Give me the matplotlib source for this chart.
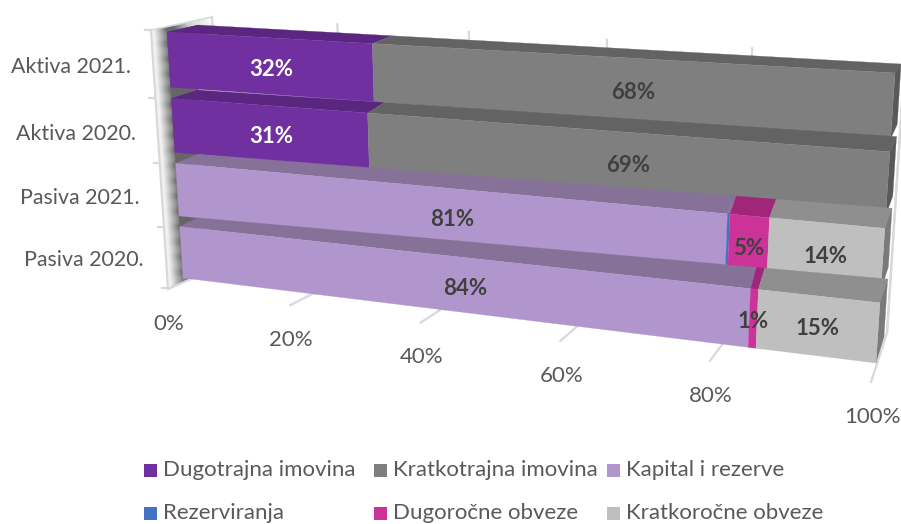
import numpy as np
import matplotlib
matplotlib.use('Agg')
import matplotlib.pyplot as plt
from matplotlib.patches import Polygon, Rectangle

plt.rcParams['font.family'] = ['Lato', 'DejaVu Sans']

categories = ['Aktiva 2021.', 'Aktiva 2020.', 'Pasiva 2021.', 'Pasiva 2020.']
series_names = ['Dugotrajna imovina', 'Kratkotrajna imovina', 'Kapital i rezerve',
                'Rezerviranja', 'Dugoročne obveze', 'Kratkoročne obveze']
dugotrajna = [32, 31, 0, 0]
kratkotrajna = [68, 69, 0, 0]
kapital = [0, 0, 80.7, 84]
rezerviranja = [0, 0, 0.3, 0]
dugorocne = [0, 0, 5, 1]
kratkorocne = [0, 0, 14, 15]
x_ticks = [0, 20, 40, 60, 80, 100]

front_cols = ['#7030A0', '#7F7F7F', '#B196CE', '#4472C4', '#CC3399', '#BFBFBF']
top_cols = ['#5A2680', '#636363', '#867298', '#867298', '#A0267A', '#8F8F8F']
side_cols = ['#4A2068', '#595959', '#76658A', '#335590', '#8A2068', '#7A7A7A']
label_cols = ['white', '#404040', '#404040', '#404040', '#404040', '#404040']


def homography(corners):
    # corners for (0,0), (1,0), (1,1), (0,1) in pixels
    src = [(0, 0), (1, 0), (1, 1), (0, 1)]
    A, b = [], []
    for (u, v), (x, y) in zip(src, corners):
        A.append([u, v, 1, 0, 0, 0, -u * x, -v * x])
        A.append([0, 0, 0, u, v, 1, -u * y, -v * y])
        b += [x, y]
    h = np.linalg.solve(np.array(A, float), np.array(b, float))
    return np.append(h, 1).reshape(3, 3)


def project(H, u, v):
    p = H @ np.array([u, v, 1.0])
    return p[0] / p[2], p[1] / p[2]


def project_back(u, v):
    # back edge has a bit more foreshortening than its corners give
    u2 = u / (u + (1 - u) * 1.10)
    return project(H_back, u2, v)


H_front = homography([(167, 32), (895, 73), (876, 363), (183, 278)])
H_back = homography([(198, 25), (901, 64), (884, 337), (198, 270)])
H_wall = homography([(212, 17), (905, 57), (887, 333), (226, 264)])

pitch = 1 / (4 - 0.17)
bar_h = 0.83 * pitch

fig = plt.figure(figsize=(9.01, 5.24), dpi=100)
ax = fig.add_axes([0, 0, 1, 1])
ax.set_xlim(0, 901)
ax.set_ylim(524, 0)
ax.axis('off')

grid_col = '#D9D9D9'
font_size = 16


def left_x(y):
    return 151 + 17 * (y - 30) / 259


# side wall with its shading
wall = Polygon([(151, 30), (212, 17), (226, 264), (168, 289)], closed=True,
               transform=ax.transData, fc='none', ec='none')
ax.add_patch(wall)
for dx in range(0, 64):
    grey = np.interp(dx, [0, 3, 15, 22, 38, 62], [0.96, 0.93, 0.42, 0.40, 0.80, 1.0])
    strip = ax.fill([left_x(0) + dx, left_x(0) + dx + 1.2, left_x(320) + dx + 1.2, left_x(320) + dx],
                    [0, 0, 320, 320], color=str(grey), lw=0, zorder=1)[0]
    strip.set_clip_path(wall)
ax.add_patch(Polygon([(167, 32), (198, 25), (198, 270), (183, 278)], fc='#666666', ec='none', zorder=1.5))

# gridlines on back wall and floor
for tick in x_ticks:
    u = tick / 100
    x0, y0 = project(H_wall, u, 0)
    x1, y1 = project(H_wall, u, 1)
    ax.plot([x0, x1], [y0, y1], color=grid_col, lw=1.6, zorder=1)
    t = (project(H_front, u, 1)[0] - 183) / (876 - 183)
    fx, fy = 168 + t * 703, 289 + t * 93
    ax.plot([x1, fx], [y1, fy], color=grid_col, lw=1.6, zorder=1)
    ax.text(fx + 1, fy + 35, f'{tick}%', ha='center', va='center', fontsize=font_size, color='#595959')

ax.plot([151, 168], [30, 289], color=grid_col, lw=1.6, zorder=2)
ax.plot([151, 212], [30, 17], color=grid_col, lw=1.2, zorder=1)
ax.plot([887, 905], [333, 57], color=grid_col, lw=1.6, zorder=1)

# category ticks and labels
tick_pts = []
for i in range(5):
    y = project(H_front, 0, i * pitch)[1]
    if i == 0:
        y = 30
    tick_pts.append((left_x(y), y))
    ax.plot([left_x(y) - 6, left_x(y)], [y, y], color=grid_col, lw=1.6, zorder=2)
for i, name in enumerate(categories):
    xm = (tick_pts[i][0] + tick_pts[i + 1][0]) / 2 - 6
    ym = (tick_pts[i][1] + tick_pts[i + 1][1]) / 2
    ax.text(xm - 16, ym + 3, name, ha='right', va='center', fontsize=15.4, color='#595959')

# stacked bars, far row first
all_series = [dugotrajna, kratkotrajna, kapital, rezerviranja, dugorocne, kratkorocne]
for i in range(len(categories)):
    v0 = i * pitch
    v1 = v0 + bar_h
    left = 0
    last = max(s for s in range(6) if all_series[s][i] > 0)
    for s in range(6):
        val = all_series[s][i]
        if val == 0:
            continue
        u0, u1 = left / 100, (left + val) / 100
        left += val
        ftl, ftr = project(H_front, u0, v0), project(H_front, u1, v0)
        fbl, fbr = project(H_front, u0, v1), project(H_front, u1, v1)
        btl, btr = project_back(u0, v0), project_back(u1, v0)
        bbr = project_back(u1, v1)
        ax.add_patch(Polygon([ftl, btl, btr, ftr], fc=top_cols[s], ec=top_cols[s], lw=0.2, zorder=3 + i))
        if s == last:
            ax.add_patch(Polygon([ftr, btr, bbr, fbr], fc=side_cols[s], ec=side_cols[s], lw=0.2, zorder=3 + i))
        ax.add_patch(Polygon([ftl, ftr, fbr, fbl], fc=front_cols[s], ec=front_cols[s], lw=0.2, zorder=3.1 + i))
        if val >= 1:
            cx = (ftl[0] + ftr[0] + fbl[0] + fbr[0]) / 4
            cy = (ftl[1] + ftr[1] + fbl[1] + fbr[1]) / 4
            ax.text(cx, cy + 3, f'{val:.0f}%', ha='center', va='center', fontsize=font_size,
                    fontweight='bold', color=label_cols[s], zorder=10)

# legend
legend_x = [144, 374, 607]
legend_y = [470, 513]
for s, name in enumerate(series_names):
    lx = legend_x[s % 3]
    ly = legend_y[s // 3]
    ax.add_patch(Rectangle((lx, ly - 6.5), 13, 13, fc=front_cols[s], ec='none'))
    ax.text(lx + 19, ly, name, ha='left', va='center', fontsize=font_size, color='#595959')

fig.savefig('out.png', dpi=100)
